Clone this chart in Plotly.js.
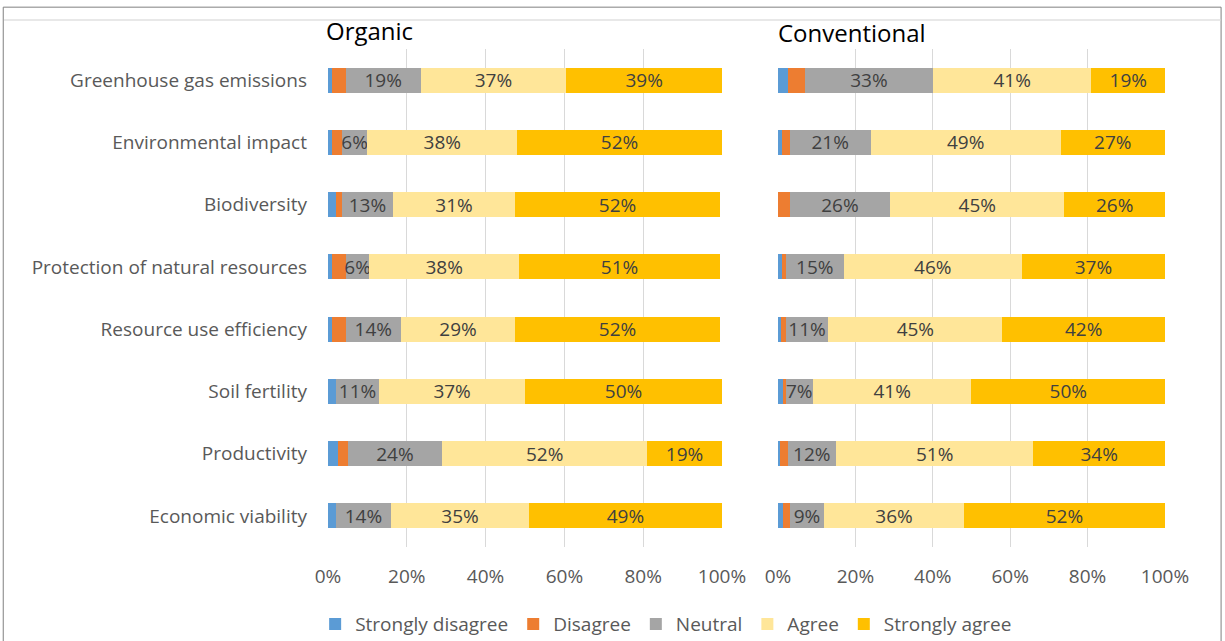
<!DOCTYPE html>
<html><head><meta charset="utf-8">
<script src="https://cdn.plot.ly/plotly-3.0.1.min.js"></script>
<style>html,body{margin:0;padding:0;background:#fff}#chart{width:1225px;height:641px}</style>
</head><body><div id="chart"></div>
<script>
const categories = ["Greenhouse gas emissions","Environmental impact","Biodiversity","Protection of natural resources","Resource use efficiency","Soil fertility","Productivity","Economic viability"];
const seriesNames = ["Strongly disagree","Disagree","Neutral","Agree","Strongly agree"];
const colors = ["#5B9BD5","#ED7D31","#A5A5A5","#FFE699","#FFC000"];
// Organic
const orgSD = [1, 1, 2, 1, 1, 2, 2.5, 2];
const orgD  = [3.5, 2.5, 1.5, 3.5, 3.5, 0, 2.5, 0];
const orgN  = [19, 6.5, 13, 6, 14, 11, 24, 14];
const orgA  = [37, 38, 31, 38, 29, 37, 52, 35];
const orgSA = [39.5, 52, 52, 51, 52, 50, 19, 49];
const orgLabN  = ["19%","6%","13%","6%","14%","11%","24%","14%"];
const orgLabA  = ["37%","38%","31%","38%","29%","37%","52%","35%"];
const orgLabSA = ["39%","52%","52%","51%","52%","50%","19%","49%"];
// Conventional
const conSD = [2.5, 1, 0, 1, 0.8, 1.2, 0.5, 1.3];
const conD  = [4.5, 2, 3, 1, 1.2, 0.8, 2, 1.7];
const conN  = [33, 21, 26, 15, 11, 7, 12.5, 9];
const conA  = [41, 49, 45, 46, 45, 41, 51, 36];
const conSA = [19, 27, 26, 37, 42, 50, 34, 52];
const conLabN  = ["33%","21%","26%","15%","11%","7%","12%","9%"];
const conLabA  = ["41%","49%","45%","46%","45%","41%","51%","36%"];
const conLabSA = ["19%","27%","26%","37%","42%","50%","34%","52%"];
const xTickVals = [0,20,40,60,80,100];
const xTickText = ["0%","20%","40%","60%","80%","100%"];

const FONT = "Open Sans, Noto Sans, sans-serif";
const orgVals = [orgSD, orgD, orgN, orgA, orgSA];
const conVals = [conSD, conD, conN, conA, conSA];
const orgLabs = [null, null, orgLabN, orgLabA, orgLabSA];
const conLabs = [null, null, conLabN, conLabA, conLabSA];

const traces = [];
function addGroup(vals, labs, xa, ya, showLeg) {
  vals.forEach((v, i) => {
    traces.push({
      type: "bar", orientation: "h",
      x: v, y: categories,
      xaxis: xa, yaxis: ya,
      name: seriesNames[i],
      legendgroup: seriesNames[i],
      showlegend: showLeg,
      marker: {color: colors[i], line: {width: 0}},
      text: labs[i] ? labs[i] : null,
      texttemplate: labs[i] ? "%{text}" : "",
      textposition: labs[i] ? "inside" : "none",
      insidetextanchor: "middle",
      constraintext: "none",
      textangle: 0,
      textfont: {family: FONT, size: 19, color: "#404040"},
      hoverinfo: "name+x"
    });
  });
}
addGroup(orgVals, orgLabs, "x", "y", true);
addGroup(conVals, conLabs, "x2", "y2", false);

const xCommon = {
  range: [0, 100], tickvals: xTickVals, ticktext: xTickText,
  showgrid: true, gridcolor: "#D9D9D9", gridwidth: 1,
  zeroline: false, showline: false, ticks: "", ticklabelstandoff: 16,
  tickfont: {family: FONT, size: 19, color: "#595959"}
};
const yCommon = {
  type: "category", autorange: "reversed",
  showgrid: false, zeroline: false, showline: false, ticks: ""
};

const layout = {
  width: 1225, height: 641,
  margin: {l: 328, r: 60, t: 49, b: 94, autoexpand: false},
  paper_bgcolor: "#fff", plot_bgcolor: "#fff",
  barmode: "stack", bargap: 0.6,
  font: {family: FONT, color: "#595959"},
  xaxis: Object.assign({domain: [0, 0.4707], anchor: "y"}, xCommon),
  xaxis2: Object.assign({domain: [0.5376, 1], anchor: "y2"}, xCommon),
  yaxis: Object.assign({anchor: "x", ticklabelstandoff: 20, tickfont: {family: FONT, size: 19, color: "#595959"}}, yCommon),
  yaxis2: Object.assign({anchor: "x2", showticklabels: false}, yCommon),
  legend: {orientation: "h", x: 0.404, xanchor: "center", y: -0.155, yanchor: "middle",
           bgcolor: "rgba(0,0,0,0)",
           font: {family: FONT, size: 19, color: "#595959"}, traceorder: "normal", itemwidth: 30},
  annotations: [
    {text: "Organic", xref: "paper", yref: "paper", x: -0.005, y: 1.0, xanchor: "left", yanchor: "bottom",
     yshift: 0, showarrow: false, font: {family: FONT, size: 24, color: "#000"}},
    {text: "Conventional", xref: "paper", yref: "paper", x: 0.5352, y: 1.0, xanchor: "left", yanchor: "bottom",
     yshift: -2, showarrow: false, font: {family: FONT, size: 24, color: "#000"}}
  ],
  shapes: [
    {type: "rect", xref: "paper", yref: "paper", x0: -0.388, x1: 1.067, y0: -0.3, y1: 1.084,
     line: {color: "#808080", width: 1}, fillcolor: "rgba(0,0,0,0)", layer: "below"},
    {type: "line", xref: "paper", yref: "paper", x0: -0.387, x1: 1.066, y0: 1.058, y1: 1.058,
     line: {color: "#E8E8E8", width: 2}, layer: "below"}
  ]
};
Plotly.newPlot("chart", traces, layout, {displayModeBar: false, staticPlot: true});
</script></body></html>
